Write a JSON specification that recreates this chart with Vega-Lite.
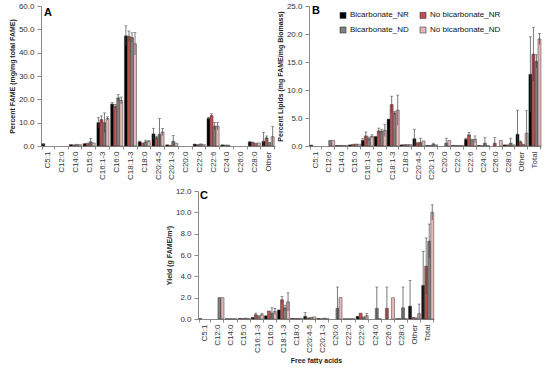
{
  "$schema": "https://vega.github.io/schema/vega-lite/v6.json",
  "padding": {"left": 8, "top": 2, "right": 0, "bottom": 0},
  "background": "white",
  "datasets": {
    "A": [
      {"c": "C5:1", "s": "Bicarbonate_NR", "v": 0.8, "lo": 0.5, "hi": 1.1},
      {"c": "C14:0", "s": "Bicarbonate_NR", "v": 0.6},
      {"c": "C14:0", "s": "No bicarbonate_NR", "v": 0.5},
      {"c": "C14:0", "s": "Bicarbonate_ND", "v": 0.7},
      {"c": "C14:0", "s": "No bicarbonate_ND", "v": 0.6},
      {"c": "C15:0", "s": "Bicarbonate_NR", "v": 1.0},
      {"c": "C15:0", "s": "No bicarbonate_NR", "v": 1.2},
      {"c": "C15:0", "s": "Bicarbonate_ND", "v": 1.8, "lo": 0.4, "hi": 3.2},
      {"c": "C15:0", "s": "No bicarbonate_ND", "v": 1.3},
      {"c": "C16:1-3", "s": "Bicarbonate_NR", "v": 10.0, "lo": 7.7, "hi": 12.3},
      {"c": "C16:1-3", "s": "No bicarbonate_NR", "v": 11.3, "lo": 9.7, "hi": 12.9},
      {"c": "C16:1-3", "s": "Bicarbonate_ND", "v": 10.0, "lo": 5.8, "hi": 14.2},
      {"c": "C16:1-3", "s": "No bicarbonate_ND", "v": 11.8, "lo": 11.1, "hi": 12.5},
      {"c": "C16:0", "s": "Bicarbonate_NR", "v": 18.0, "lo": 17.4, "hi": 18.6},
      {"c": "C16:0", "s": "No bicarbonate_NR", "v": 17.0, "lo": 16.2, "hi": 17.8},
      {"c": "C16:0", "s": "Bicarbonate_ND", "v": 20.6, "lo": 19.2, "hi": 22.0},
      {"c": "C16:0", "s": "No bicarbonate_ND", "v": 19.5, "lo": 18.0, "hi": 21.0},
      {"c": "C18:1-3", "s": "Bicarbonate_NR", "v": 47.2, "lo": 42.9, "hi": 51.5},
      {"c": "C18:1-3", "s": "No bicarbonate_NR", "v": 47.0, "lo": 44.7, "hi": 49.3},
      {"c": "C18:1-3", "s": "Bicarbonate_ND", "v": 46.5, "lo": 44.5, "hi": 48.5},
      {"c": "C18:1-3", "s": "No bicarbonate_ND", "v": 43.8, "lo": 39.0, "hi": 48.6},
      {"c": "C18:0", "s": "Bicarbonate_NR", "v": 1.8, "lo": 1.5, "hi": 2.1},
      {"c": "C18:0", "s": "No bicarbonate_NR", "v": 1.3},
      {"c": "C18:0", "s": "Bicarbonate_ND", "v": 1.8, "lo": 1.1, "hi": 2.5},
      {"c": "C18:0", "s": "No bicarbonate_ND", "v": 1.9, "lo": 1.5, "hi": 2.3},
      {"c": "C20:4-5", "s": "Bicarbonate_NR", "v": 5.2, "lo": 2.8, "hi": 7.6},
      {"c": "C20:4-5", "s": "No bicarbonate_NR", "v": 3.5, "lo": 2.8, "hi": 4.2},
      {"c": "C20:4-5", "s": "Bicarbonate_ND", "v": 5.0, "lo": 0, "hi": 11.8},
      {"c": "C20:4-5", "s": "No bicarbonate_ND", "v": 6.0, "lo": 4.5, "hi": 7.5},
      {"c": "C20:1-3", "s": "Bicarbonate_NR", "v": 0.5},
      {"c": "C20:1-3", "s": "No bicarbonate_NR", "v": 0.3},
      {"c": "C20:1-3", "s": "Bicarbonate_ND", "v": 2.0, "lo": 0, "hi": 4.5},
      {"c": "C20:1-3", "s": "No bicarbonate_ND", "v": 1.2},
      {"c": "C22:0", "s": "Bicarbonate_NR", "v": 0.8},
      {"c": "C22:0", "s": "No bicarbonate_NR", "v": 0.6},
      {"c": "C22:0", "s": "Bicarbonate_ND", "v": 0.9},
      {"c": "C22:0", "s": "No bicarbonate_ND", "v": 0.6},
      {"c": "C22:6", "s": "Bicarbonate_NR", "v": 11.8, "lo": 11.3, "hi": 12.3},
      {"c": "C22:6", "s": "No bicarbonate_NR", "v": 13.0, "lo": 12.2, "hi": 13.8},
      {"c": "C22:6", "s": "Bicarbonate_ND", "v": 8.5, "lo": 7.0, "hi": 10.0},
      {"c": "C22:6", "s": "No bicarbonate_ND", "v": 8.5, "lo": 6.9, "hi": 10.1},
      {"c": "C24:0", "s": "Bicarbonate_NR", "v": 0.5},
      {"c": "C24:0", "s": "No bicarbonate_NR", "v": 0.4},
      {"c": "C24:0", "s": "Bicarbonate_ND", "v": 0.4},
      {"c": "C28:0", "s": "Bicarbonate_NR", "v": 1.7, "lo": 1.5, "hi": 1.9},
      {"c": "C28:0", "s": "No bicarbonate_NR", "v": 1.4, "lo": 1.1, "hi": 1.7},
      {"c": "C28:0", "s": "Bicarbonate_ND", "v": 1.2},
      {"c": "C28:0", "s": "No bicarbonate_ND", "v": 1.3},
      {"c": "Other", "s": "Bicarbonate_NR", "v": 2.0, "lo": 0, "hi": 5.8},
      {"c": "Other", "s": "No bicarbonate_NR", "v": 3.5, "lo": 2.7, "hi": 4.3},
      {"c": "Other", "s": "Bicarbonate_ND", "v": 1.5},
      {"c": "Other", "s": "No bicarbonate_ND", "v": 4.0, "lo": 0, "hi": 8.3}
    ],
    "B": [
      {"c": "C5:1", "s": "Bicarbonate_NR", "v": 0.15},
      {"c": "C12:0", "s": "Bicarbonate_ND", "v": 1.0},
      {"c": "C12:0", "s": "No bicarbonate_ND", "v": 1.0},
      {"c": "C14:0", "s": "Bicarbonate_NR", "v": 0.1},
      {"c": "C14:0", "s": "No bicarbonate_NR", "v": 0.1},
      {"c": "C14:0", "s": "Bicarbonate_ND", "v": 0.1},
      {"c": "C14:0", "s": "No bicarbonate_ND", "v": 0.1},
      {"c": "C15:0", "s": "Bicarbonate_NR", "v": 0.2},
      {"c": "C15:0", "s": "No bicarbonate_NR", "v": 0.3},
      {"c": "C15:0", "s": "Bicarbonate_ND", "v": 0.35},
      {"c": "C15:0", "s": "No bicarbonate_ND", "v": 0.3},
      {"c": "C16:1-3", "s": "Bicarbonate_NR", "v": 1.0, "lo": 0.7, "hi": 1.3},
      {"c": "C16:1-3", "s": "No bicarbonate_NR", "v": 1.8, "lo": 1.1, "hi": 2.5},
      {"c": "C16:1-3", "s": "Bicarbonate_ND", "v": 1.3, "lo": 1.0, "hi": 1.6},
      {"c": "C16:1-3", "s": "No bicarbonate_ND", "v": 1.7, "lo": 1.4, "hi": 2.0},
      {"c": "C16:0", "s": "Bicarbonate_NR", "v": 1.7},
      {"c": "C16:0", "s": "No bicarbonate_NR", "v": 2.7, "lo": 2.2, "hi": 3.2},
      {"c": "C16:0", "s": "Bicarbonate_ND", "v": 2.6, "lo": 2.3, "hi": 2.9},
      {"c": "C16:0", "s": "No bicarbonate_ND", "v": 2.8, "lo": 1.7, "hi": 3.9},
      {"c": "C18:1-3", "s": "Bicarbonate_NR", "v": 4.8},
      {"c": "C18:1-3", "s": "No bicarbonate_NR", "v": 7.4, "lo": 5.9, "hi": 8.9},
      {"c": "C18:1-3", "s": "Bicarbonate_ND", "v": 5.9, "lo": 5.6, "hi": 6.2},
      {"c": "C18:1-3", "s": "No bicarbonate_ND", "v": 6.4, "lo": 3.7, "hi": 9.1},
      {"c": "C18:0", "s": "Bicarbonate_NR", "v": 0.2},
      {"c": "C18:0", "s": "No bicarbonate_NR", "v": 0.25},
      {"c": "C18:0", "s": "Bicarbonate_ND", "v": 0.25},
      {"c": "C18:0", "s": "No bicarbonate_ND", "v": 0.25},
      {"c": "C20:4-5", "s": "Bicarbonate_NR", "v": 1.3, "lo": 0, "hi": 3.0},
      {"c": "C20:4-5", "s": "No bicarbonate_NR", "v": 0.6},
      {"c": "C20:4-5", "s": "Bicarbonate_ND", "v": 0.6, "lo": 0, "hi": 1.4},
      {"c": "C20:4-5", "s": "No bicarbonate_ND", "v": 0.9},
      {"c": "C20:1-3", "s": "Bicarbonate_NR", "v": 0.1},
      {"c": "C20:1-3", "s": "No bicarbonate_NR", "v": 0.1},
      {"c": "C20:1-3", "s": "Bicarbonate_ND", "v": 0.3, "lo": 0.1, "hi": 0.5},
      {"c": "C20:1-3", "s": "No bicarbonate_ND", "v": 0.2},
      {"c": "C20:0", "s": "Bicarbonate_ND", "v": 0.5, "lo": 0, "hi": 1.4},
      {"c": "C20:0", "s": "No bicarbonate_ND", "v": 1.0},
      {"c": "C22:0", "s": "Bicarbonate_NR", "v": 0.1},
      {"c": "C22:0", "s": "No bicarbonate_NR", "v": 0.1},
      {"c": "C22:0", "s": "Bicarbonate_ND", "v": 0.1},
      {"c": "C22:0", "s": "No bicarbonate_ND", "v": 0.1},
      {"c": "C22:6", "s": "Bicarbonate_NR", "v": 1.2, "lo": 1.0, "hi": 1.4},
      {"c": "C22:6", "s": "No bicarbonate_NR", "v": 2.0, "lo": 1.6, "hi": 2.4},
      {"c": "C22:6", "s": "Bicarbonate_ND", "v": 1.2},
      {"c": "C22:6", "s": "No bicarbonate_ND", "v": 1.2, "lo": 0.6, "hi": 1.8},
      {"c": "C24:0", "s": "Bicarbonate_NR", "v": 0.1},
      {"c": "C24:0", "s": "No bicarbonate_NR", "v": 0.05},
      {"c": "C24:0", "s": "Bicarbonate_ND", "v": 0.5, "lo": 0, "hi": 1.5},
      {"c": "C24:0", "s": "No bicarbonate_ND", "v": 0.1},
      {"c": "C26:0", "s": "No bicarbonate_NR", "v": 0.5, "lo": 0, "hi": 1.5},
      {"c": "C26:0", "s": "No bicarbonate_ND", "v": 1.0},
      {"c": "C28:0", "s": "Bicarbonate_NR", "v": 0.2},
      {"c": "C28:0", "s": "No bicarbonate_NR", "v": 0.2},
      {"c": "C28:0", "s": "Bicarbonate_ND", "v": 0.5, "lo": 0, "hi": 1.4},
      {"c": "C28:0", "s": "No bicarbonate_ND", "v": 0.2},
      {"c": "Other", "s": "Bicarbonate_NR", "v": 2.1, "lo": 0, "hi": 6.4},
      {"c": "Other", "s": "No bicarbonate_NR", "v": 0.7, "lo": 0.5, "hi": 0.9},
      {"c": "Other", "s": "Bicarbonate_ND", "v": 0.3},
      {"c": "Other", "s": "No bicarbonate_ND", "v": 2.3, "lo": 0, "hi": 6.3},
      {"c": "Total", "s": "Bicarbonate_NR", "v": 12.8, "lo": 6.1, "hi": 19.5},
      {"c": "Total", "s": "No bicarbonate_NR", "v": 16.4, "lo": 11.6, "hi": 21.2},
      {"c": "Total", "s": "Bicarbonate_ND", "v": 15.1, "lo": 13.9, "hi": 16.3},
      {"c": "Total", "s": "No bicarbonate_ND", "v": 19.1, "lo": 18.1, "hi": 20.1}
    ],
    "C": [
      {"c": "C5:1", "s": "Bicarbonate_NR", "v": 0.03},
      {"c": "C12:0", "s": "Bicarbonate_ND", "v": 2.0},
      {"c": "C12:0", "s": "No bicarbonate_ND", "v": 2.0},
      {"c": "C14:0", "s": "Bicarbonate_NR", "v": 0.02},
      {"c": "C14:0", "s": "No bicarbonate_NR", "v": 0.02},
      {"c": "C14:0", "s": "Bicarbonate_ND", "v": 0.02},
      {"c": "C14:0", "s": "No bicarbonate_ND", "v": 0.02},
      {"c": "C15:0", "s": "Bicarbonate_NR", "v": 0.05},
      {"c": "C15:0", "s": "No bicarbonate_NR", "v": 0.05},
      {"c": "C15:0", "s": "Bicarbonate_ND", "v": 0.08},
      {"c": "C15:0", "s": "No bicarbonate_ND", "v": 0.05},
      {"c": "C16:1-3", "s": "Bicarbonate_NR", "v": 0.15},
      {"c": "C16:1-3", "s": "No bicarbonate_NR", "v": 0.4, "lo": 0.25, "hi": 0.55},
      {"c": "C16:1-3", "s": "Bicarbonate_ND", "v": 0.3},
      {"c": "C16:1-3", "s": "No bicarbonate_ND", "v": 0.4, "lo": 0.3, "hi": 0.5},
      {"c": "C16:0", "s": "Bicarbonate_NR", "v": 0.3},
      {"c": "C16:0", "s": "No bicarbonate_NR", "v": 0.75},
      {"c": "C16:0", "s": "Bicarbonate_ND", "v": 0.55, "lo": 0.05, "hi": 1.05},
      {"c": "C16:0", "s": "No bicarbonate_ND", "v": 0.7, "lo": 0.4, "hi": 1.0},
      {"c": "C18:1-3", "s": "Bicarbonate_NR", "v": 0.85},
      {"c": "C18:1-3", "s": "No bicarbonate_NR", "v": 1.8, "lo": 1.5, "hi": 2.1},
      {"c": "C18:1-3", "s": "Bicarbonate_ND", "v": 1.05, "lo": 0.8, "hi": 1.3},
      {"c": "C18:1-3", "s": "No bicarbonate_ND", "v": 1.6, "lo": 0.75, "hi": 2.45},
      {"c": "C18:0", "s": "Bicarbonate_NR", "v": 0.06},
      {"c": "C18:0", "s": "No bicarbonate_NR", "v": 0.06},
      {"c": "C18:0", "s": "Bicarbonate_ND", "v": 0.06},
      {"c": "C18:0", "s": "No bicarbonate_ND", "v": 0.06},
      {"c": "C20:4-5", "s": "Bicarbonate_NR", "v": 0.25, "lo": 0, "hi": 0.6},
      {"c": "C20:4-5", "s": "No bicarbonate_NR", "v": 0.1},
      {"c": "C20:4-5", "s": "Bicarbonate_ND", "v": 0.15},
      {"c": "C20:4-5", "s": "No bicarbonate_ND", "v": 0.2},
      {"c": "C20:1-3", "s": "Bicarbonate_NR", "v": 0.05},
      {"c": "C20:1-3", "s": "No bicarbonate_NR", "v": 0.02},
      {"c": "C20:1-3", "s": "Bicarbonate_ND", "v": 0.08},
      {"c": "C20:1-3", "s": "No bicarbonate_ND", "v": 0.03},
      {"c": "C20:0", "s": "Bicarbonate_ND", "v": 1.0, "lo": 0, "hi": 3.0},
      {"c": "C20:0", "s": "No bicarbonate_ND", "v": 2.0},
      {"c": "C22:0", "s": "Bicarbonate_NR", "v": 0.02},
      {"c": "C22:0", "s": "No bicarbonate_NR", "v": 0.02},
      {"c": "C22:0", "s": "Bicarbonate_ND", "v": 0.02},
      {"c": "C22:0", "s": "No bicarbonate_ND", "v": 0.02},
      {"c": "C22:6", "s": "Bicarbonate_NR", "v": 0.25},
      {"c": "C22:6", "s": "No bicarbonate_NR", "v": 0.55},
      {"c": "C22:6", "s": "Bicarbonate_ND", "v": 0.2},
      {"c": "C22:6", "s": "No bicarbonate_ND", "v": 0.3, "lo": 0.1, "hi": 0.5},
      {"c": "C24:0", "s": "Bicarbonate_ND", "v": 1.0, "lo": 0, "hi": 3.0},
      {"c": "C24:0", "s": "No bicarbonate_ND", "v": 0.02},
      {"c": "C26:0", "s": "No bicarbonate_NR", "v": 1.0, "lo": 0, "hi": 3.0},
      {"c": "C26:0", "s": "No bicarbonate_ND", "v": 2.0},
      {"c": "C28:0", "s": "Bicarbonate_NR", "v": 0.03},
      {"c": "C28:0", "s": "No bicarbonate_NR", "v": 0.03},
      {"c": "C28:0", "s": "Bicarbonate_ND", "v": 1.05, "lo": 0, "hi": 3.0},
      {"c": "C28:0", "s": "No bicarbonate_ND", "v": 0.03},
      {"c": "Other", "s": "Bicarbonate_NR", "v": 1.2, "lo": 0, "hi": 3.6},
      {"c": "Other", "s": "No bicarbonate_NR", "v": 0.15},
      {"c": "Other", "s": "Bicarbonate_ND", "v": 0.1},
      {"c": "Other", "s": "No bicarbonate_ND", "v": 0.5, "lo": 0, "hi": 1.4},
      {"c": "Total", "s": "Bicarbonate_NR", "v": 3.15, "lo": 0, "hi": 6.35},
      {"c": "Total", "s": "No bicarbonate_NR", "v": 4.95, "lo": 2.3, "hi": 7.6},
      {"c": "Total", "s": "Bicarbonate_ND", "v": 7.3, "lo": 5.7, "hi": 8.9},
      {"c": "Total", "s": "No bicarbonate_ND", "v": 10.0, "lo": 9.3, "hi": 10.7}
    ]
  },
  "resolve": {"scale": {"color": "independent"}, "legend": {"color": "independent"}},
  "spacing": 7,
  "center": false,
  "vconcat": [
    {
      "spacing": 1,
      "resolve": {"scale": {"color": "independent"}, "legend": {"color": "independent"}},
      "hconcat": [
        {
          "width": 234, "height": 140,
          "data": {"name": "A"},
          "title": {"text": "A", "anchor": "start", "frame": "group", "orient": "top", "offset": -16, "dx": 3, "fontSize": 11, "fontWeight": "bold", "color": "#000"},
          "encoding": {
            "x": {"field": "c", "type": "nominal", "scale": {"domain": ["C5:1","C12:0","C14:0","C15:0","C16:1-3","C16:0","C18:1-3","C18:0","C20:4-5","C20:1-3","C20:0","C22:0","C22:6","C24:0","C26:0","C28:0","Other"], "paddingInner": 0.12, "paddingOuter": 0.06}, "axis": {"title": null}},
            "xOffset": {"field": "s", "type": "nominal", "scale": {"domain": ["Bicarbonate_NR","No bicarbonate_NR","Bicarbonate_ND","No bicarbonate_ND"]}}
          },
          "layer": [
            {
              "mark": {"type": "bar", "stroke": "#3a3a3a", "strokeWidth": 0.5},
              "encoding": {
                "y": {"field": "v", "type": "quantitative", "title": "Percent FAME (mg/mg total FAME)", "scale": {"domain": [0, 60], "nice": false}, "axis": {"values": [0,10,20,30,40,50,60], "tickCount": 7, "labelOverlap": false, "format": ".1f"}},
                "color": {"field": "s", "type": "nominal", "scale": {"domain": ["Bicarbonate_NR","No bicarbonate_NR","Bicarbonate_ND","No bicarbonate_ND"], "range": ["#000000","#c0504d","#7f7f7f","#e6b9b8"]}, "legend": null}
              }
            },
            {
              "transform": [{"filter": "isValid(datum.hi)"}],
              "mark": {"type": "rule", "color": "#404040", "strokeWidth": 0.7},
              "encoding": {"y": {"field": "lo", "type": "quantitative", "title": "Percent FAME (mg/mg total FAME)", "axis": {"values": [0,10,20,30,40,50,60], "tickCount": 7, "labelOverlap": false, "format": ".1f"}}, "y2": {"field": "hi"}}
            },
            {
              "transform": [{"filter": "isValid(datum.hi)"}],
              "mark": {"type": "tick", "color": "#404040", "size": 3, "thickness": 0.7},
              "encoding": {"y": {"field": "hi", "type": "quantitative", "title": "Percent FAME (mg/mg total FAME)", "axis": {"values": [0,10,20,30,40,50,60], "tickCount": 7, "labelOverlap": false, "format": ".1f"}}}
            }
          ]
        },
        {
          "width": 232, "height": 140,
          "data": {"name": "B"},
          "title": {"text": "B", "anchor": "start", "frame": "group", "orient": "top", "offset": -14, "dx": 3, "fontSize": 11, "fontWeight": "bold", "color": "#000"},
          "encoding": {
            "x": {"field": "c", "type": "nominal", "scale": {"domain": ["C5:1","C12:0","C14:0","C15:0","C16:1-3","C16:0","C18:1-3","C18:0","C20:4-5","C20:1-3","C20:0","C22:0","C22:6","C24:0","C26:0","C28:0","Other","Total"], "paddingInner": 0.12, "paddingOuter": 0.06}, "axis": {"title": null}},
            "xOffset": {"field": "s", "type": "nominal", "scale": {"domain": ["Bicarbonate_NR","No bicarbonate_NR","Bicarbonate_ND","No bicarbonate_ND"]}}
          },
          "layer": [
            {
              "mark": {"type": "bar", "stroke": "#3a3a3a", "strokeWidth": 0.5},
              "encoding": {
                "y": {"field": "v", "type": "quantitative", "title": "Percent Lipids (mg FAME/mg Biomass)", "scale": {"domain": [0, 25], "nice": false}, "axis": {"values": [0,5,10,15,20,25], "tickCount": 6, "labelOverlap": false, "format": ".1f"}},
                "color": {"field": "s", "type": "nominal", "scale": {"domain": ["Bicarbonate_NR","No bicarbonate_NR","Bicarbonate_ND","No bicarbonate_ND"], "range": ["#000000","#c0504d","#7f7f7f","#e6b9b8"]},
                  "legend": {"title": null, "orient": "none", "legendX": 30, "legendY": 5, "columns": 2, "direction": "horizontal", "columnPadding": 9, "rowPadding": 5, "symbolType": "square", "symbolSize": 36, "symbolStrokeColor": "#333", "symbolStrokeWidth": 0.6, "labelFontSize": 8, "labelColor": "#111", "labelOffset": 3}}
              }
            },
            {
              "transform": [{"filter": "isValid(datum.hi)"}],
              "mark": {"type": "rule", "color": "#404040", "strokeWidth": 0.7},
              "encoding": {"y": {"field": "lo", "type": "quantitative", "title": "Percent Lipids (mg FAME/mg Biomass)", "axis": {"values": [0,5,10,15,20,25], "tickCount": 6, "labelOverlap": false, "format": ".1f"}}, "y2": {"field": "hi"}}
            },
            {
              "transform": [{"filter": "isValid(datum.hi)"}],
              "mark": {"type": "tick", "color": "#404040", "size": 3, "thickness": 0.7},
              "encoding": {"y": {"field": "hi", "type": "quantitative", "title": "Percent Lipids (mg FAME/mg Biomass)", "axis": {"values": [0,5,10,15,20,25], "tickCount": 6, "labelOverlap": false, "format": ".1f"}}}
            }
          ]
        }
      ]
    },
    {
      "spacing": 8,
      "resolve": {"scale": {"color": "independent"}, "legend": {"color": "independent"}},
      "hconcat": [
        {
          "width": 116, "height": 10,
          "data": {"values": [{}]},
          "mark": {"type": "text", "text": ""}
        },
        {
          "width": 236, "height": 128,
          "data": {"name": "C"},
          "title": {"text": "C", "anchor": "start", "frame": "group", "orient": "top", "offset": -14, "dx": 2, "fontSize": 11, "fontWeight": "bold", "color": "#000"},
          "encoding": {
            "x": {"field": "c", "type": "nominal", "scale": {"domain": ["C5:1","C12:0","C14:0","C15:0","C16:1-3","C16:0","C18:1-3","C18:0","C20:4-5","C20:1-3","C20:0","C22:0","C22:6","C24:0","C26:0","C28:0","Other","Total"], "paddingInner": 0.12, "paddingOuter": 0.06}, "axis": {"title": "Free fatty acids", "titlePadding": 4}},
            "xOffset": {"field": "s", "type": "nominal", "scale": {"domain": ["Bicarbonate_NR","No bicarbonate_NR","Bicarbonate_ND","No bicarbonate_ND"]}}
          },
          "layer": [
            {
              "mark": {"type": "bar", "stroke": "#3a3a3a", "strokeWidth": 0.5},
              "encoding": {
                "y": {"field": "v", "type": "quantitative", "title": "Yield (g FAME/m²)", "scale": {"domain": [0, 12], "nice": false}, "axis": {"values": [0,2,4,6,8,10,12], "tickCount": 7, "labelOverlap": false, "format": ".1f"}},
                "color": {"field": "s", "type": "nominal", "scale": {"domain": ["Bicarbonate_NR","No bicarbonate_NR","Bicarbonate_ND","No bicarbonate_ND"], "range": ["#000000","#c0504d","#7f7f7f","#e6b9b8"]}, "legend": null}
              }
            },
            {
              "transform": [{"filter": "isValid(datum.hi)"}],
              "mark": {"type": "rule", "color": "#404040", "strokeWidth": 0.7},
              "encoding": {"y": {"field": "lo", "type": "quantitative", "title": "Yield (g FAME/m²)", "axis": {"values": [0,2,4,6,8,10,12], "tickCount": 7, "labelOverlap": false, "format": ".1f"}}, "y2": {"field": "hi"}}
            },
            {
              "transform": [{"filter": "isValid(datum.hi)"}],
              "mark": {"type": "tick", "color": "#404040", "size": 3, "thickness": 0.7},
              "encoding": {"y": {"field": "hi", "type": "quantitative", "title": "Yield (g FAME/m²)", "axis": {"values": [0,2,4,6,8,10,12], "tickCount": 7, "labelOverlap": false, "format": ".1f"}}}
            }
          ]
        }
      ]
    }
  ],
  "config": {
    "font": "Liberation Sans",
    "view": {"stroke": null},
    "axis": {"labelFontSize": 8, "titleFontSize": 7, "titleFontWeight": "bold", "labelColor": "#333", "titleColor": "#222", "domainColor": "#8a8a8a", "tickColor": "#8a8a8a", "grid": false},
    "axisY": {"tickSize": 4, "labelPadding": 3, "titlePadding": 3, "labelOverlap": false},
    "axisX": {"labelAngle": -90, "tickBand": "extent", "tickSize": 3, "labelPadding": 2}
  }
}
